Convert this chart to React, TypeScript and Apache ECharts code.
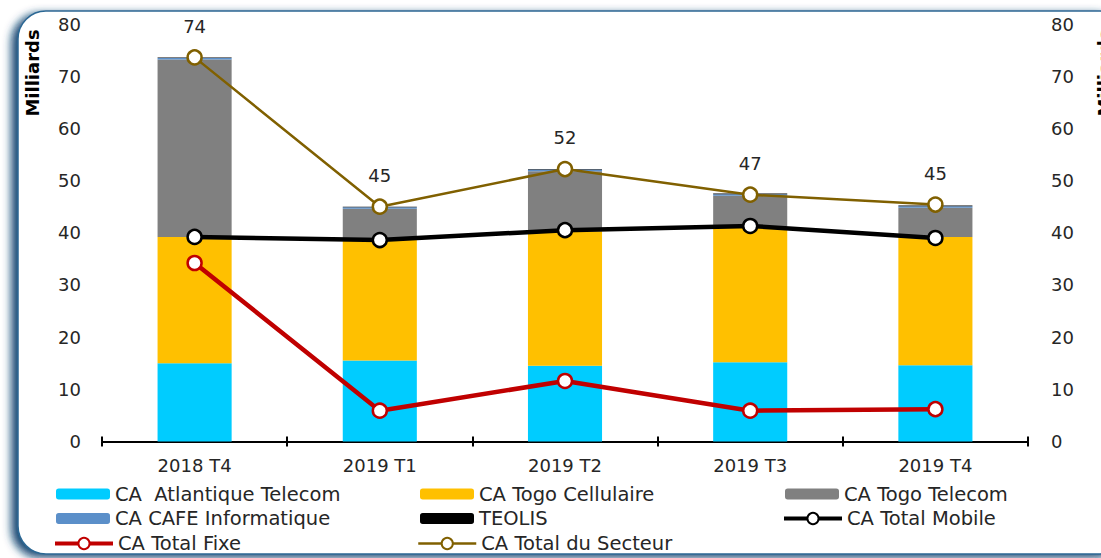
import React, { useEffect, useRef } from "react";
import * as echarts from "echarts";

const categories = ["2018 T4", "2019 T1", "2019 T2", "2019 T3", "2019 T4"];
const atlantique = [15.0, 15.5, 14.5, 15.2, 14.6];
const togoCellulaire = [24.2, 23.1, 25.8, 25.9, 24.6];
const togoTelecom = [34.0, 6.0, 11.5, 6.0, 5.6];
const cafe = [0.3, 0.3, 0.3, 0.3, 0.3];
const teolis = [0.1, 0.1, 0.1, 0.1, 0.1];
const totalMobile = [39.2, 38.6, 40.5, 41.3, 39.0];
const totalFixe = [34.2, 5.9, 11.6, 5.9, 6.2];
const totalSecteur = [73.6, 45.0, 52.2, 47.3, 45.4];

const FONT = "'DejaVu Sans', 'Open Sans', sans-serif";
const TXT = "#262626";

export default function App() {
  const ref = useRef<HTMLDivElement>(null);
  useEffect(() => {
    document.body.style.margin = "0";
    if (!ref.current) return;
    const chart = echarts.init(ref.current, undefined, { renderer: "svg" });
    const barSeries = (name: string, data: number[], color: string) => ({
      name,
      type: "bar",
      stack: "ca",
      data,
      barWidth: "40%",
      itemStyle: { color },
      xAxisIndex: 0,
      yAxisIndex: 0,
    });
    const lineSeries = (name: string, data: number[], color: string, width: number, extra: any = {}) => ({
      name,
      type: "line",
      data,
      xAxisIndex: 0,
      yAxisIndex: 0,
      symbol: "circle",
      symbolSize: 14,
      lineStyle: { color, width },
      itemStyle: { color: "#ffffff", borderColor: color, borderWidth: 2.5 },
      z: 5,
      ...extra,
    });
    const legendItem = (name: string, left: number, top: number, lineWidth = 0) => ({
      left,
      top,
      padding: 0,
      itemWidth: lineWidth ? 58 : 54,
      itemHeight: lineWidth ? 14 : 11,
      textStyle: { fontFamily: FONT, fontSize: 19.5, color: TXT, lineHeight: 20 },
      selectedMode: false,
      ...(lineWidth ? { lineStyle: { width: lineWidth } } : {}),
      data: [name],
    });
    const rows = [484, 508.5, 533.5];
    const milliards = (x: number) => ({
      type: "text",
      x,
      y: 73,
      rotation: Math.PI / 2,
      style: {
        text: "Milliards",
        fontFamily: FONT,
        fontSize: 18,
        fontWeight: "bold",
        fill: "#000",
        textAlign: "center",
        textVerticalAlign: "middle",
      },
    });
    chart.setOption({
      animation: false,
      textStyle: { fontFamily: FONT },
      graphic: [
        {
          type: "rect",
          z: -10,
          silent: true,
          shape: { x: 18, y: 11, width: 1110, height: 543, r: 28 },
          style: {
            fill: "#ffffff",
            stroke: "#2C6794",
            lineWidth: 1.5,
            shadowColor: "rgba(16,66,110,0.95)",
            shadowBlur: 8,
            shadowOffsetX: -6,
            shadowOffsetY: 3,
          },
        },
        milliards(32),
        milliards(1104),
      ],
      grid: { left: 102, right: 73, top: 24, bottom: 116.5, containLabel: false },
      legend: [
        legendItem("CA  Atlantique Telecom", 56, rows[0]),
        legendItem("CA CAFE Informatique", 56, rows[1]),
        legendItem("CA Total Fixe", 53, rows[2], 4),
        legendItem("CA Togo Cellulaire", 420, rows[0]),
        legendItem("TEOLIS", 420, rows[1]),
        legendItem("CA Total du Secteur", 417, rows[2], 2.5),
        legendItem("CA Togo Telecom", 785, rows[0]),
        legendItem("CA Total Mobile", 782, rows[1], 4),
      ],
      xAxis: [
        {
          type: "category",
          data: categories,
          position: "bottom",
          axisLine: { show: true, lineStyle: { color: "#000", width: 2 } },
          axisTick: { show: true, length: 5, lineStyle: { color: "#000", width: 2 } },
          axisLabel: { fontFamily: FONT, fontSize: 18, color: TXT, margin: 15 },
        },
        {
          type: "category",
          data: categories,
          position: "bottom",
          axisLine: { show: false },
          axisTick: { show: true, inside: true, length: 5, lineStyle: { color: "#000", width: 2 } },
          axisLabel: { show: false },
        },
      ],
      yAxis: [
        {
          type: "value",
          min: 0,
          max: 80,
          interval: 10,
          position: "left",
          axisLine: { show: false },
          axisTick: { show: false },
          splitLine: { show: false },
          axisLabel: { fontFamily: FONT, fontSize: 18, color: TXT, margin: 21 },
        },
        {
          type: "value",
          min: 0,
          max: 80,
          interval: 10,
          position: "right",
          axisLine: { show: false },
          axisTick: { show: false },
          splitLine: { show: false },
          axisLabel: { fontFamily: FONT, fontSize: 18, color: TXT, margin: 23 },
        },
      ],
      series: [
        barSeries("CA  Atlantique Telecom", atlantique, "#00CCFF"),
        barSeries("CA Togo Cellulaire", togoCellulaire, "#FFC000"),
        barSeries("CA Togo Telecom", togoTelecom, "#808080"),
        barSeries("CA CAFE Informatique", cafe, "#5B8FC9"),
        barSeries("TEOLIS", teolis, "#000000"),
        lineSeries("CA Total Mobile", totalMobile, "#000000", 4.5),
        lineSeries("CA Total Fixe", totalFixe, "#C00000", 4.5),
        lineSeries("CA Total du Secteur", totalSecteur, "#806000", 2.5, {
          label: {
            show: true,
            position: "top",
            distance: 14,
            fontFamily: FONT,
            fontSize: 18,
            color: TXT,
            formatter: (p: any) => String(Math.round(p.value)),
          },
        }),
      ],
    });
    return () => chart.dispose();
  }, []);
  return <div ref={ref} style={{ width: 1101, height: 558 }} />;
}
